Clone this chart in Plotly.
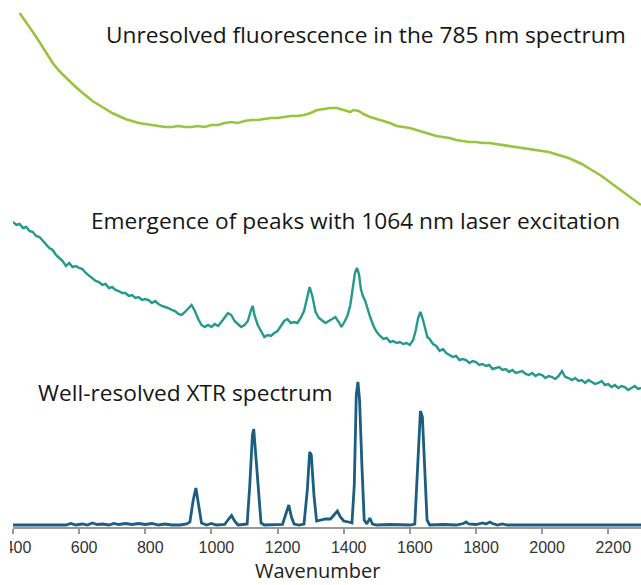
import plotly.graph_objects as go

# ---------------- data ----------------
# 785 nm spectrum (green) - wavenumber / intensity (offset units)
green_x = [420, 440, 460, 480, 500, 520, 540, 560, 580, 600, 620, 640, 660, 680, 700, 720, 740, 760, 780, 800,
           820, 840, 860, 880, 900, 920, 940, 960, 980, 1000, 1020, 1040, 1060, 1080, 1100, 1120, 1140, 1160, 1180, 1200,
           1220, 1240, 1260, 1280, 1300, 1320, 1340, 1360, 1380, 1400, 1420, 1430, 1445, 1460, 1480, 1500, 1520, 1540, 1560, 1580,
           1600, 1620, 1640, 1660, 1680, 1700, 1720, 1740, 1760, 1780, 1800, 1820, 1840, 1860, 1880, 1900, 1920, 1940, 1960, 1980,
           2000, 2020, 2040, 2060, 2080, 2100, 2120, 2140, 2160, 2180, 2200, 2220, 2240, 2260, 2280, 2299]
green_y = [512, 503, 493, 483, 472, 462, 454, 447, 441, 435, 429, 424, 420, 416, 412, 409, 406, 404, 402, 401,
           400, 399, 398, 398, 399, 398, 398, 399, 398, 400, 400, 402, 403, 402, 404, 405, 405, 406, 407, 407,
           408, 409, 409, 410, 412, 415, 416, 417, 417, 415, 413, 415, 414, 411, 408, 406, 404, 402, 399, 398,
           397, 395, 393, 391, 389, 388, 387, 385, 384, 383, 383, 382, 382, 381, 380, 379, 378, 377, 376, 375,
           374, 373, 371, 369, 367, 364, 361, 357, 353, 349, 344, 339, 334, 329, 324, 320]

# 1064 nm spectrum (teal)
teal_x = [400, 410, 420, 430, 440, 450, 460, 470, 480, 490, 500, 510, 520, 530, 540, 550, 560, 570, 580, 590,
          600, 610, 620, 630, 640, 650, 660, 670, 680, 690, 700, 710, 720, 730, 740, 750, 760, 770, 780, 790,
          800, 810, 820, 830, 840, 850, 860, 870, 880, 890, 900, 910, 920, 930, 940, 950, 960, 970, 980, 990,
          1000, 1010, 1020, 1030, 1040, 1050, 1060, 1070, 1080, 1090, 1100, 1110, 1120, 1125, 1130, 1140, 1150, 1160, 1170, 1180,
          1190, 1200, 1210, 1220, 1230, 1240, 1250, 1260, 1270, 1280, 1290, 1297, 1305, 1315, 1325, 1335, 1345, 1355, 1365, 1375,
          1385, 1393, 1402, 1411, 1420, 1428, 1434, 1440, 1446, 1452, 1458, 1465, 1472, 1480, 1490, 1500, 1510, 1520, 1530, 1540,
          1550, 1560, 1570, 1580, 1590, 1600, 1610, 1618, 1625, 1632, 1639, 1646, 1653, 1660, 1670, 1680, 1690, 1700, 1710, 1720,
          1730, 1740, 1750, 1760, 1770, 1780, 1790, 1800, 1810, 1820, 1830, 1840, 1850, 1860, 1870, 1880, 1890, 1900, 1910, 1920,
          1930, 1940, 1950, 1960, 1970, 1980, 1990, 2000, 2010, 2020, 2030, 2040, 2050, 2060, 2070, 2080, 2090, 2100, 2110, 2120,
          2130, 2140, 2150, 2160, 2170, 2180, 2190, 2200, 2210, 2220, 2230, 2240, 2250, 2260, 2270, 2280, 2290, 2299]
teal_y = [303, 300, 301, 297, 298, 294, 293, 289, 288, 284, 281, 277, 275, 270, 267, 264, 259, 262, 258, 259,
          257, 256, 252, 249, 247, 244, 243, 240, 241, 237, 238, 235, 234, 232, 232, 229, 230, 227, 228, 225,
          226, 225, 222, 224, 221, 219, 218, 217, 215, 214, 211, 210, 213, 216, 220, 214, 206, 200, 198, 200,
          198, 201, 199, 203, 207, 212, 210, 204, 201, 198, 200, 204, 215, 219, 210, 200, 194, 188, 190, 189,
          192, 194, 199, 204, 206, 202, 203, 202, 207, 214, 228, 238, 229, 213, 207, 204, 202, 204, 206, 208,
          203, 198, 203, 209, 220, 238, 252, 257, 251, 236, 229, 224, 216, 208, 199, 193, 189, 186, 187, 183,
          184, 182, 183, 181, 182, 180, 185, 195, 207, 213, 206, 196, 188, 186, 181, 179, 174, 176, 172, 170,
          168, 169, 165, 166, 165, 162, 164, 163, 160, 161, 159, 160, 156, 157, 158, 155, 156, 153, 155, 152,
          153, 154, 151, 150, 152, 149, 151, 150, 147, 149, 148, 146, 149, 154, 148, 147, 145, 147, 144, 145,
          142, 145, 143, 141, 142, 144, 140, 141, 138, 140, 137, 139, 138, 135, 137, 139, 136, 137]

# XTR spectrum (dark blue)
blue_x = [400, 560, 575, 590, 610, 625, 640, 655, 670, 690, 705, 720, 740, 760, 780, 800, 820, 840, 860, 880,
          905, 925, 935, 945, 953, 961, 970, 985, 1000, 1015, 1040, 1052, 1061, 1070, 1080, 1095, 1108, 1116, 1124, 1128,
          1134, 1142, 1150, 1160, 1200, 1215, 1226, 1234, 1242, 1250, 1265, 1280, 1290, 1297, 1302, 1310, 1318, 1330, 1345, 1360,
          1372, 1381, 1390, 1400, 1415, 1425, 1432, 1438, 1443, 1448, 1455, 1462, 1470, 1479, 1487, 1500, 1540, 1570, 1600, 1615,
          1625, 1632, 1638, 1645, 1652, 1660, 1700, 1740, 1762, 1770, 1778, 1800, 1820, 1830, 1842, 1850, 1865, 1880, 1895, 2299]
blue_y = [0, 0, 1.5, 0, 1, 0, 2, 0.5, 1, 0, 1.5, 0.5, 1.5, 0.5, 1.5, 0.5, 1.5, 0, 1, 0,
          0, 1, 3, 25, 37, 22, 2, 0, 1.5, 0, 0.5, 6, 9.5, 4, 0, 0.5, 1, 40, 90, 96,
          70, 30, 2, 0, 0, 0.5, 12, 20, 8, 1, 0, 1, 35, 73, 70, 30, 4, 5, 6, 6,
          10, 14, 8, 4, 3, 2, 40, 130, 143, 125, 60, 5, 1, 7, 1, 0, 0.5, 0, 0, 1,
          60, 114, 108, 60, 5, 0, 0.5, 0, 1.5, 3, 1, 0.5, 2, 1, 3, 1.5, 0, 1, 0, 0]

x_ticks = [400, 600, 800, 1000, 1200, 1400, 1600, 1800, 2000, 2200]
labels = ["Unresolved fluorescence in the 785 nm spectrum",
          "Emergence of peaks with 1064 nm laser excitation",
          "Well-resolved XTR spectrum"]
x_title = "Wavenumber"

# ---------------- figure ----------------
W, H = 641, 585
ML, MB = 13, 58
plot_w, plot_h = W - ML, H - MB

fig = go.Figure()
fig.add_trace(go.Scatter(x=green_x, y=green_y, mode="lines",
                         line=dict(color="#98c43e", width=2.6), hoverinfo="skip"))
fig.add_trace(go.Scatter(x=teal_x, y=teal_y, mode="lines",
                         line=dict(color="#25998b", width=2.4), hoverinfo="skip"))
fig.add_trace(go.Scatter(x=blue_x, y=blue_y, mode="lines",
                         line=dict(color="#1d5e80", width=2.8), hoverinfo="skip"))

def px2paper(px, py):
    return (px - ML) / plot_w, (plot_h - py) / plot_h

txt_font = dict(family="Open Sans", size=22.7, color="#161616")
for (px, py), t in zip([(104, 34), (89, 220), (36, 392)], labels):
    xp, yp = px2paper(px, py)
    fig.add_annotation(text=t, xref="paper", yref="paper", x=xp, y=yp,
                       xanchor="left", yanchor="middle", showarrow=False, font=txt_font)

xp, yp = px2paper(318, 585)
fig.add_annotation(text=x_title, xref="paper", yref="paper", x=xp, y=yp,
                   xanchor="center", yanchor="bottom", showarrow=False, borderpad=0,
                   font=dict(family="Open Sans", size=20, color="#222222"))

# mask the left part of the first tick label (cropped in the original)
x0, y0 = px2paper(0, 535)
x1, y1 = px2paper(10, 562)
fig.add_shape(type="rect", xref="paper", yref="paper", x0=x0, x1=x1, y0=y1, y1=y0,
              fillcolor="white", line=dict(width=0), layer="above")

fig.update_layout(
    width=W, height=H,
    margin=dict(l=ML, r=0, t=0, b=MB, pad=0),
    paper_bgcolor="white", plot_bgcolor="white",
    showlegend=False,
    xaxis=dict(range=[400, 2299], tickvals=x_ticks, ticks="outside", ticklen=5,
               tickcolor="#999999", tickwidth=1.5, showline=True, linecolor="#999999", linewidth=1.5,
               showgrid=False, zeroline=False, ticklabelshift=5,
               tickfont=dict(family="Liberation Sans", size=16, color="#333333")),
    yaxis=dict(range=[-2, 525], visible=False, showgrid=False, zeroline=False),
)

fig.write_html("out.html", config={"displayModeBar": False})
